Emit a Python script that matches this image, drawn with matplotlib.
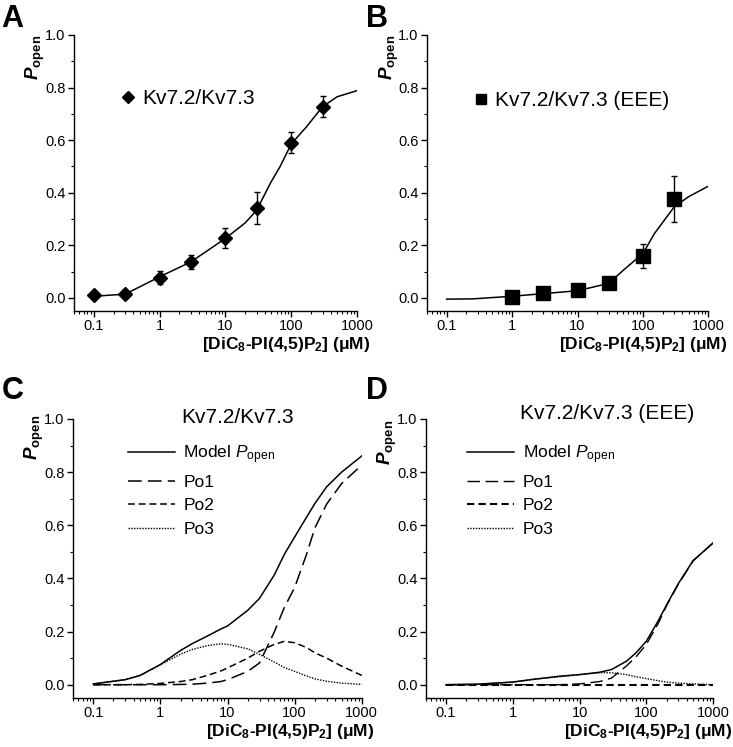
import numpy as np
import matplotlib
matplotlib.use("Agg")
import matplotlib.pyplot as plt
from matplotlib.ticker import LogLocator, MultipleLocator, FixedLocator, NullFormatter, FormatStrFormatter
from matplotlib.transforms import blended_transform_factory

plt.rcParams['font.family'] = ['Liberation Sans', 'DejaVu Sans']
plt.rcParams['mathtext.fontset'] = 'custom'
plt.rcParams['mathtext.rm'] = 'Liberation Sans'
plt.rcParams['mathtext.it'] = 'Liberation Sans:italic'
plt.rcParams['mathtext.bf'] = 'Liberation Sans:bold'
plt.rcParams['mathtext.bfit'] = 'Liberation Sans:bold:italic'

# Panel A : measured points and fit
conc_a = [0.1, 0.3, 1, 3, 10, 30, 100, 300]
po_a = [0.012, 0.015, 0.077, 0.137, 0.228, 0.342, 0.590, 0.727]
err_a = [0.004, 0.004, 0.025, 0.026, 0.037, 0.060, 0.040, 0.040]
fit_x_a = [0.1, 0.3, 1, 3, 10, 20, 30, 48, 68, 100, 170, 300, 500, 1000]
fit_y_a = [0.006, 0.014, 0.08, 0.137, 0.226, 0.285, 0.334, 0.435, 0.50, 0.585, 0.65, 0.727, 0.765, 0.788]

# Panel B : measured points and fit (EEE)
conc_b = [1, 3, 10, 30, 100, 300]
po_b = [0.004, 0.018, 0.028, 0.056, 0.159, 0.376]
err_b = [0.004, 0.006, 0.006, 0.008, 0.046, 0.088]
fit_x_b = [0.1, 0.25, 1, 3, 10, 30, 50, 100, 150, 300, 500, 1000]
fit_y_b = [-0.005, -0.004, 0.006, 0.016, 0.027, 0.055, 0.105, 0.169, 0.245, 0.346, 0.385, 0.425]

# Panel C : model components
mx_c = [0.1, 0.3, 0.5, 1, 2, 3, 5, 8, 10, 20, 30, 50, 70, 100, 150, 200, 300, 500, 1000]
model_c = [0.003, 0.019, 0.035, 0.076, 0.129, 0.155, 0.183, 0.210, 0.221, 0.28, 0.325, 0.414, 0.49, 0.556, 0.63, 0.682, 0.745, 0.80, 0.861]
po1_c = [0.0, 0.0, 0.0, 0.0, 0.001, 0.002, 0.006, 0.012, 0.019, 0.05, 0.082, 0.20, 0.29, 0.366, 0.49, 0.59, 0.68, 0.757, 0.827]
po2_c = [0.0, 0.0, 0.001, 0.005, 0.012, 0.019, 0.035, 0.052, 0.063, 0.10, 0.126, 0.152, 0.163, 0.158, 0.14, 0.12, 0.10, 0.07, 0.035]
po3_c = [0.003, 0.019, 0.035, 0.075, 0.115, 0.133, 0.147, 0.154, 0.152, 0.135, 0.114, 0.085, 0.065, 0.05, 0.033, 0.022, 0.013, 0.006, 0.001]

# Panel D : model components (EEE)
mx_d = [0.1, 0.3, 1, 2, 5, 10, 20, 30, 50, 70, 100, 150, 200, 300, 500, 1000]
model_d = [0.0, 0.002, 0.01, 0.02, 0.032, 0.038, 0.047, 0.057, 0.088, 0.12, 0.164, 0.24, 0.30, 0.38, 0.467, 0.534]
po1_d = [0.0, 0.0, 0.0, 0.0, 0.0, 0.003, 0.012, 0.025, 0.07, 0.105, 0.152, 0.23, 0.297, 0.378, 0.466, 0.534]
po2_d = [0.0, 0.0, 0.0, 0.0, 0.0, 0.0, 0.0, 0.0, 0.0, 0.0, 0.0, 0.0, 0.0, 0.0, 0.0, 0.0]
po3_d = [0.0, 0.002, 0.01, 0.02, 0.03, 0.038, 0.045, 0.045, 0.038, 0.03, 0.023, 0.015, 0.01, 0.006, 0.003, 0.0]

xlabel = r'[DiC$_\mathbf{8}$-PI(4,5)P$_\mathbf{2}$] (μM)'
ylabel = r'$\mathbfit{P}_{\mathbf{open}}$'

fig = plt.figure(figsize=(7.33, 7.47), dpi=100)
axA = fig.add_axes([0.101, 0.5837, 0.386, 0.3695])
axB = fig.add_axes([0.5825, 0.5837, 0.384, 0.3695])
axC = fig.add_axes([0.0996, 0.0656, 0.394, 0.3735])
axD = fig.add_axes([0.581, 0.0656, 0.392, 0.3735])


def style(ax, ylab_y, xlab_pos):
    ax.set_xscale('log')
    ax.set_xlim(0.05, 1000)
    ax.set_ylim(-0.05, 1.0)
    ax.spines['top'].set_visible(False)
    ax.spines['right'].set_visible(False)
    ax.xaxis.set_major_locator(FixedLocator([0.1, 1, 10, 100, 1000]))
    ax.set_xticklabels(['0.1', '1', '10', '100', '1000'])
    ax.xaxis.set_minor_locator(LogLocator(base=10, subs=np.arange(2, 10), numticks=20))
    ax.xaxis.set_minor_formatter(NullFormatter())
    ax.yaxis.set_major_locator(MultipleLocator(0.2))
    ax.yaxis.set_minor_locator(MultipleLocator(0.1))
    ax.yaxis.set_major_formatter(FormatStrFormatter('%.1f'))
    ax.tick_params(which='major', direction='out', length=4, width=1, labelsize=10.5, pad=2)
    ax.tick_params(which='minor', direction='out', length=2, width=0.8)
    ax.set_xlabel(xlabel, fontsize=12.5, fontweight='bold', ha='right', va='top')
    ax.xaxis.set_label_coords(*xlab_pos)
    tr = blended_transform_factory(ax.transAxes, ax.transData)
    ax.text(-0.135, ylab_y, ylabel, transform=tr, rotation=90, fontsize=13.5,
            ha='center', va='center')
    for s in ax.spines.values():
        s.set_linewidth(1.0)


# A
axA.plot(fit_x_a, fit_y_a, color='black', lw=1.1)
axA.errorbar(conc_a, po_a, yerr=err_a, fmt='none', ecolor='black', capsize=2.5,
             elinewidth=1, capthick=1)
axA.plot(conc_a, po_a, 'D', color='black', ms=7, label='Kv7.2/Kv7.3')
axA.legend(loc='center left', bbox_to_anchor=(0.17, 0.768), frameon=False, fontsize=15,
           handlelength=0.6, handletextpad=0.35, borderpad=0, borderaxespad=0, markerscale=0.9)
style(axA, 0.916, (1.046, -0.087))

# B
axB.plot(fit_x_b, fit_y_b, color='black', lw=1.1)
axB.errorbar(conc_b, po_b, yerr=err_b, fmt='none', ecolor='black', capsize=2.5,
             elinewidth=1, capthick=1)
axB.plot(conc_b, po_b, 's', color='black', ms=10.5, label='Kv7.2/Kv7.3 (EEE)')
axB.legend(loc='center left', bbox_to_anchor=(0.17, 0.761), frameon=False, fontsize=15,
           handlelength=0.6, handletextpad=0.35, borderpad=0, borderaxespad=0, markerscale=0.7)
style(axB, 0.916, (1.068, -0.087))

# C
axC.plot(mx_c, model_c, color='black', lw=1.1, label=r'Model $P_{\mathrm{open}}$')
axC.plot(mx_c, po1_c, color='black', lw=1.1, dashes=(9, 4), label='Po1')
axC.plot(mx_c, po2_c, color='black', lw=1.1, dashes=(4.5, 2.5), label='Po2')
axC.plot(mx_c, po3_c, color='black', lw=1.0, dashes=(1, 1), label='Po3')
axC.legend(loc='upper left', bbox_to_anchor=(0.19, 0.912), frameon=False, fontsize=12.5,
           handlelength=2.7, handletextpad=0.5, labelspacing=0.48, borderpad=0, borderaxespad=0)
axC.text(0.57, 1.007, 'Kv7.2/Kv7.3', transform=axC.transAxes, fontsize=15, ha='center', va='center')
style(axC, 0.93, (1.045, -0.086))

# D
axD.plot(mx_d, model_d, color='black', lw=1.1, label=r'Model $P_{\mathrm{open}}$')
axD.plot(mx_d, po1_d, color='black', lw=1.0, dashes=(9, 4), label='Po1')
axD.plot(mx_d, po2_d, color='black', lw=1.5, dashes=(3.5, 2), label='Po2')
axD.plot(mx_d, po3_d, color='black', lw=1.0, dashes=(1, 1), label='Po3')
axD.legend(loc='upper left', bbox_to_anchor=(0.143, 0.912), frameon=False, fontsize=12.5,
           handlelength=2.7, handletextpad=0.5, labelspacing=0.48, borderpad=0, borderaxespad=0)
axD.text(0.63, 1.02, 'Kv7.2/Kv7.3 (EEE)', transform=axD.transAxes, fontsize=15, ha='center', va='center')
style(axD, 0.91, (1.066, -0.086))

for lab, x, y in [('A', 0.002, 0.995), ('B', 0.499, 0.995), ('C', 0.002, 0.497), ('D', 0.499, 0.497)]:
    fig.text(x, y, lab, fontsize=22, fontweight='bold', ha='left', va='top')

fig.savefig('out.png', dpi=100)
